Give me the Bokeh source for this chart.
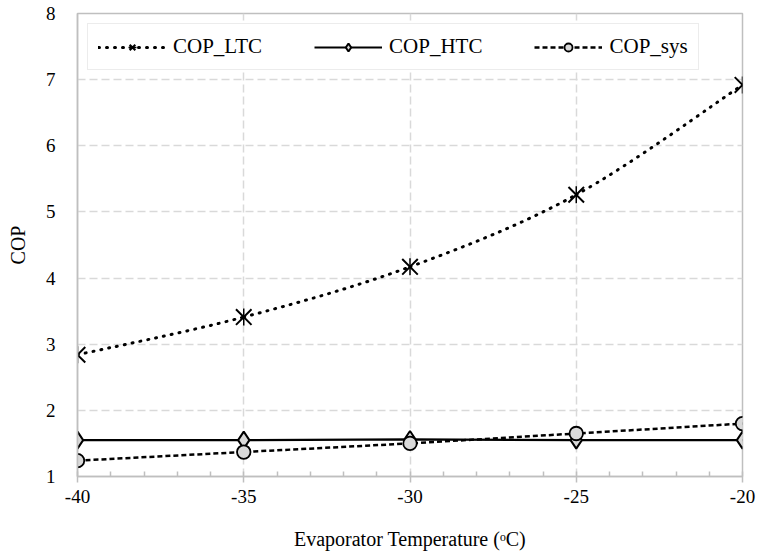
import math
from bokeh.plotting import figure
from bokeh.models import (ColumnDataSource, Legend, LegendItem, FixedTicker,
                          SingleIntervalTicker, Range1d, PrintfTickFormatter)
from bokeh.embed import file_html
from bokeh.resources import INLINE

# ---- data ----
temps = [-40, -35, -30, -25, -20]
cop_ltc = [2.84, 3.41, 4.17, 5.26, 6.92]
cop_htc = [1.55, 1.55, 1.56, 1.55, 1.55]
cop_sys = [1.24, 1.37, 1.50, 1.65, 1.80]
y_ticks = [1, 2, 3, 4, 5, 6, 7, 8]
x_ticks = [-40, -35, -30, -25, -20]
series_names = ["COP_LTC", "COP_HTC", "COP_sys"]

FONT = "Liberation Serif"
GRID = "#d9d9d9"
AXIS = "#bfbfbf"
FILL = "#d9d9d9"

p = figure(width=761, height=559, output_backend="svg", toolbar_location=None,
           x_range=Range1d(-40, -20), y_range=Range1d(1, 8),
           min_border_left=77, min_border_right=19, min_border_top=13,
           min_border_bottom=83)
p.background_fill_color = "white"
p.border_fill_color = "white"
p.outline_line_color = AXIS
p.outline_line_width = 1.5

# grid
p.xgrid.ticker = FixedTicker(ticks=x_ticks)
p.ygrid.ticker = FixedTicker(ticks=y_ticks)
for g in (p.xgrid, p.ygrid):
    g.grid_line_color = GRID
    g.grid_line_width = 1.5
    g.grid_line_dash = "8 4"

# axes
xa = p.xaxis[0]
xa.ticker = SingleIntervalTicker(interval=5, num_minor_ticks=5)
xa.formatter = PrintfTickFormatter(format="%d")
xa.axis_label = "Evaporator Temperature (\u1d52C)"
xa.major_tick_out = 6
xa.major_tick_in = 0
xa.minor_tick_in = 5
xa.minor_tick_out = 0
xa.major_label_standoff = 7
xa.axis_label_standoff = 22

ya = p.yaxis[0]
ya.ticker = FixedTicker(ticks=y_ticks)
ya.formatter = PrintfTickFormatter(format="%d")
ya.axis_label = "COP"
ya.major_tick_out = 0
ya.major_tick_in = 0
ya.minor_tick_out = 0
ya.minor_tick_in = 0
ya.major_label_standoff = 22
ya.axis_label_standoff = 14

for a in (xa, ya):
    a.axis_line_color = AXIS
    a.axis_line_width = 1.5
    a.major_tick_line_color = AXIS
    a.major_tick_line_width = 1.5
    a.minor_tick_line_color = AXIS
    a.minor_tick_line_width = 1.5
    a.major_label_text_font = FONT
    a.major_label_text_font_size = "19px"
    a.major_label_text_color = "black"
    a.axis_label_text_font = FONT
    a.axis_label_text_font_size = "20px"
    a.axis_label_text_font_style = "normal"
    a.axis_label_text_color = "black"

# smoothed curve for COP_LTC (Catmull-Rom style Bezier from the data points)
n = len(temps)
bx0, by0, bx1, by1, bcx0, bcy0, bcx1, bcy1 = [], [], [], [], [], [], [], []
for i in range(n - 1):
    im = max(i - 1, 0)
    ip = min(i + 2, n - 1)
    bx0.append(temps[i]); by0.append(cop_ltc[i])
    bx1.append(temps[i + 1]); by1.append(cop_ltc[i + 1])
    bcx0.append(temps[i] + (temps[i + 1] - temps[im]) / 6)
    bcy0.append(cop_ltc[i] + (cop_ltc[i + 1] - cop_ltc[im]) / 6)
    bcx1.append(temps[i + 1] - (temps[ip] - temps[i]) / 6)
    bcy1.append(cop_ltc[i + 1] - (cop_ltc[ip] - cop_ltc[i]) / 6)
bez_src = ColumnDataSource(dict(x0=bx0, y0=by0, x1=bx1, y1=by1,
                                cx0=bcx0, cy0=bcy0, cx1=bcx1, cy1=bcy1))
r_ltc_line = p.bezier(x0="x0", y0="y0", x1="x1", y1="y1", cx0="cx0", cy0="cy0",
                      cx1="cx1", cy1="cy1", source=bez_src, line_color="black",
                      line_width=3, line_dash="1 7", line_cap="round")
src = ColumnDataSource(dict(t=temps, ltc=cop_ltc, htc=cop_htc, sys=cop_sys))
r_ltc_x = p.scatter("t", "ltc", source=src, marker="x", size=22,
                    line_color="black", line_width=2)
r_ltc_v = p.scatter("t", "ltc", source=src, marker="dash", size=17,
                    angle=math.pi / 2, line_color="black", line_width=1.5)

# COP_HTC
r_htc_line = p.line("t", "htc", source=src, line_color="black", line_width=2.2)
r_htc_m = p.scatter("t", "htc", source=src, marker="diamond", size=17,
                    fill_color=FILL, line_color="black", line_width=2)

# COP_sys
r_sys_line = p.line("t", "sys", source=src, line_color="black", line_width=2.5,
                    line_dash="5 3")
r_sys_m = p.scatter("t", "sys", source=src, marker="circle", size=13.5,
                    fill_color=FILL, line_color="black", line_width=1.8)

legend = Legend(items=[
    LegendItem(label=series_names[0], renderers=[r_ltc_line, r_ltc_x, r_ltc_v]),
    LegendItem(label=series_names[1], renderers=[r_htc_line, r_htc_m]),
    LegendItem(label=series_names[2], renderers=[r_sys_line, r_sys_m]),
], orientation="horizontal", location="top_left", margin=10)
legend.label_text_font = FONT
legend.label_text_font_size = "21px"
legend.label_text_color = "black"
legend.glyph_width = 68
legend.glyph_height = 20
legend.label_standoff = 7
legend.spacing = 52
legend.padding = 10
legend.border_line_color = GRID
legend.border_line_width = 1.5
legend.background_fill_color = "white"
legend.background_fill_alpha = 1
p.add_layout(legend)

open("out.html", "w").write(file_html(p, INLINE))
